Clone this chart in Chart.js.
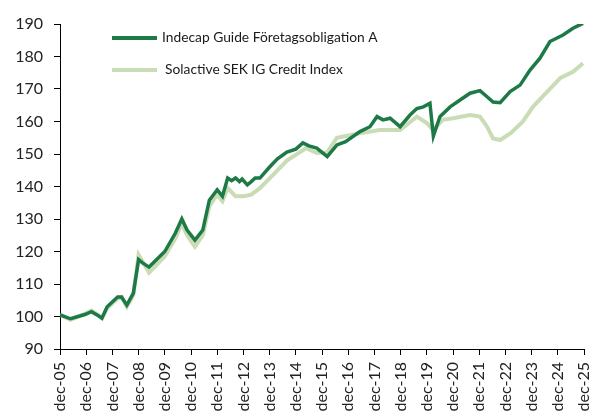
<!DOCTYPE html>
<html>
<head>
<meta charset="utf-8">
<script src="https://cdn.jsdelivr.net/npm/chart.js@4/dist/chart.umd.min.js"></script>
<style>
  html, body { margin: 0; padding: 0; background: #fff; overflow: hidden; }
  #wrap { width: 589px; height: 414px; }
</style>
</head>
<body>
<div id="wrap"><canvas id="chart"></canvas></div>
<script>
// Tick labels (one per year, x = years after dec-05)
const tickLabels = ['dec-05','dec-06','dec-07','dec-08','dec-09','dec-10','dec-11','dec-12','dec-13','dec-14',
  'dec-15','dec-16','dec-17','dec-18','dec-19','dec-20','dec-21','dec-22','dec-23','dec-24','dec-25'];

// Indecap Guide Företagsobligation A
const fundYears = [0, 0.4, 0.95, 1.2, 1.45, 1.6, 1.8, 2.2, 2.35, 2.55, 2.8, 3.0, 3.15, 3.4, 4.0, 4.4, 4.65, 4.85,
  5.15, 5.45, 5.7, 6.0, 6.2, 6.4, 6.55, 6.7, 6.85, 6.95, 7.15, 7.3, 7.45, 7.63, 8.0, 8.3, 8.66, 9.0, 9.27, 9.5,
  9.8, 10.2, 10.57, 10.9, 11.45, 11.83, 12.1, 12.33, 12.6, 12.98, 13.36, 13.62, 13.87, 14.12, 14.25, 14.5, 14.89,
  15.27, 15.65, 16.03, 16.3, 16.53, 16.8, 17.18, 17.56, 17.94, 18.32, 18.7, 19.2, 19.58, 19.96];
const fundValues = [100.5, 99.3, 100.6, 101.5, 100.3, 99.5, 103, 106, 106, 103.5, 107.2, 117.5, 116.5, 115.2, 120, 125.6, 130, 126.6,
  123.5, 126.6, 135.8, 139, 137, 142.6, 141.8, 142.6, 141.5, 142.3, 140.5, 141.5, 142.6, 142.6, 146, 148.5, 150.6, 151.5, 153.4, 152.5,
  151.8, 149.2, 152.8, 153.8, 156.9, 158.4, 161.5, 160.5, 161, 158.4, 162, 164, 164.5, 165.6, 155.5, 161.5, 164.5,
  166.6, 168.7, 169.5, 167.6, 166, 165.8, 169.2, 171.2, 175.8, 179.5, 184.6, 186.6, 188.7, 190.2];

// Solactive SEK IG Credit Index
const indexYears = [0, 0.4, 0.95, 1.2, 1.45, 1.6, 1.8, 2.2, 2.35, 2.55, 2.8, 3.0, 3.15, 3.4, 4.0, 4.4, 4.65, 4.85,
  5.15, 5.45, 5.7, 6.0, 6.2, 6.4, 6.7, 7.0, 7.3, 7.63, 8.0, 8.66, 9.4, 9.8, 10.2, 10.57, 11.45, 12.2, 12.98,
  13.62, 14.0, 14.25, 14.6, 15.0, 15.65, 16.03, 16.3, 16.53, 16.8, 17.2, 17.67, 18.05, 18.6, 19.1, 19.58, 19.96];
const indexValues = [100.5, 99, 100.8, 101.8, 100.5, 99.5, 102.5, 105.5, 106, 103, 106.5, 119, 117, 113.5, 118.5, 124, 128.5, 125,
  121.5, 125, 134, 137.5, 135.5, 139.5, 137, 137, 137.5, 139.5, 142.5, 148, 151.8, 150.3, 150.5, 155, 156.4, 157.4, 157.4,
  161.5, 159.5, 157.4, 160.5, 161, 162, 161.5, 158.4, 154.8, 154.3, 156.4, 160, 164.5, 169.2, 173.4, 175.3, 177.9];

const FONT = 'Lato, "Open Sans", sans-serif';

const toPoints = (xs, ys) => xs.map((x, i) => ({ x, y: ys[i] }));

// Legend drawn inside the plot, top left
const innerLegend = {
  id: 'innerLegend',
  afterDraw(chart) {
    const ctx = chart.ctx;
    const rows = [
      { ds: chart.data.datasets[0], y: 38, textX: 162 },
      { ds: chart.data.datasets[1], y: 70, textX: 165 }
    ];
    ctx.save();
    rows.forEach(r => {
      ctx.strokeStyle = r.ds.borderColor;
      ctx.lineWidth = 4;
      ctx.beginPath();
      ctx.moveTo(112, r.y);
      ctx.lineTo(157, r.y);
      ctx.stroke();
      ctx.fillStyle = '#1a1a1a';
      ctx.font = '13.8px ' + FONT;
      ctx.textBaseline = 'middle';
      ctx.fillText(r.ds.label, r.textX, r.y);
    });
    ctx.restore();
  }
};

new Chart(document.getElementById('chart'), {
  type: 'line',
  data: {
    datasets: [
      { label: 'Indecap Guide Företagsobligation A', data: toPoints(fundYears, fundValues),
        borderColor: '#1d7a46', borderWidth: 3.5, pointRadius: 0, tension: 0, order: 0 },
      { label: 'Solactive SEK IG Credit Index', data: toPoints(indexYears, indexValues),
        borderColor: '#c9dcb5', borderWidth: 4, pointRadius: 0, tension: 0, order: 1 }
    ]
  },
  options: {
    responsive: true,
    maintainAspectRatio: false,
    animation: false,
    layout: { padding: { left: 0, right: 5, top: 24, bottom: 0 } },
    plugins: { legend: { display: false }, tooltip: { enabled: false } },
    scales: {
      x: {
        type: 'linear', min: 0, max: 20,
        afterBuildTicks: s => { s.ticks = tickLabels.map((_, i) => ({ value: i })); },
        afterFit: s => { s.height = 65; s.paddingLeft = 0; s.paddingRight = 0; },
        ticks: { callback: v => tickLabels[v], minRotation: 90, maxRotation: 90, autoSkip: false,
          color: '#222', padding: 7, font: { family: FONT, size: 16 } },
        grid: { drawOnChartArea: false, drawTicks: true, tickLength: 6, color: '#000' },
        border: { display: true, color: '#000', width: 1 }
      },
      y: {
        min: 90, max: 190,
        afterFit: s => { s.width = 60; s.paddingTop = 0; s.paddingBottom = 0; },
        ticks: { stepSize: 10, color: '#222', padding: 11, font: { family: FONT, size: 16 } },
        grid: { drawOnChartArea: false, drawTicks: true, tickLength: 6, color: '#000' },
        border: { display: true, color: '#000', width: 1 }
      }
    }
  },
  plugins: [innerLegend]
});
</script>
</body>
</html>
